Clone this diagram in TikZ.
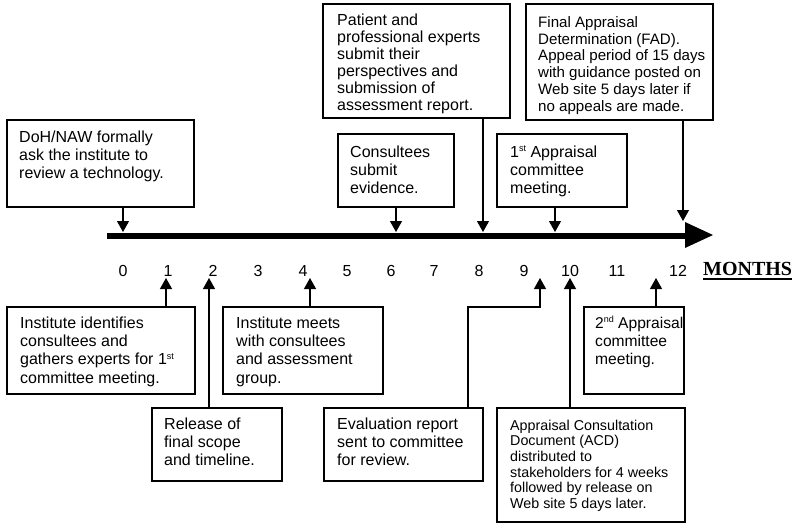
\documentclass[tikz,border=0pt]{standalone}
\usepackage{fontspec}
\setmainfont{Liberation Sans}
\newfontfamily\monthsfont{Liberation Serif}
\usetikzlibrary{arrows.meta}
% small raised ordinal suffix (1st, 2nd)
\newcommand\ordsuf[1]{\raisebox{5.5pt}{\fontsize{9}{9}\selectfont #1}}
% fixed height for the first line of every box text
\newcommand\firstline{\rule{0pt}{14pt}}

\begin{document}
\begin{tikzpicture}[x=1pt,y=-1pt,
  box/.style={draw,line width=1.1pt,inner sep=0pt,outer sep=0pt,anchor=north west},
  txt/.style={font=\fontsize{16}{18.3}\selectfont,align=left,inner sep=0pt,anchor=north west},
  conn/.style={line width=1.2pt,-{Triangle[width=12pt,length=11pt]}},
  num/.style={font=\fontsize{16}{16}\selectfont,anchor=base,inner sep=0pt}]
\useasboundingbox (0,0) rectangle (796,525);

% ---- time axis ----
\fill (107,232.5) rectangle (686,238.5);
\fill (685,222) -- (713,235) -- (685,248) -- cycle;

\foreach \m/\x in {0/123,1/168,2/213,3/258,4/303,5/347,6/391,7/434,8/479,9/524,10/570,11/617,12/678}
  \node[num] (m\m) at (\x,276) {\m};
\node[font=\monthsfont\bfseries\fontsize{20}{20}\selectfont,anchor=base west,inner sep=0pt] (months) at (703,275) {MONTHS};
\draw[line width=1.2pt] ([yshift=-4pt]months.base west) -- ([yshift=-4pt]months.base east);

% ---- arrow end points on the axis ----
\coordinate (a0) at (123,232);
\coordinate (a6) at (396,232);
\coordinate (a8) at (483,232);
\coordinate (a9) at (555,232);
\coordinate (a12) at (683,221);
\coordinate (b1) at (166,278);
\coordinate (b2) at (209,278);
\coordinate (b4) at (310,278);
\coordinate (b9) at (540,278);
\coordinate (b9k) at (540,307);
\coordinate (b9x) at (468,0);
\coordinate (b10) at (570,278);
\coordinate (b11) at (656,278);

% ---- boxes above the axis ----
\node[box,minimum width=187pt,minimum height=87pt] (doh) at (7,120) {};
\node[txt] at ([shift={(12,8)}]doh.north west) {\firstline DoH/NAW formally\\ask the institute to\\review a technology.};

\node[box,minimum width=187pt,minimum height=114pt] (pat) at (323,4) {};
\node[txt,font=\fontsize{16}{17}\selectfont] at ([shift={(14,7)}]pat.north west) {\firstline Patient and\\professional experts\\submit their\\perspectives and\\submission of\\assessment report.};

\node[box,minimum width=116pt,minimum height=73pt] (cons) at (338,134) {};
\node[txt] at ([shift={(12,9)}]cons.north west) {\firstline Consultees\\submit\\evidence.};

\node[box,minimum width=130pt,minimum height=73pt] (app1) at (497,134) {};
\node[txt] at ([shift={(13,9)}]app1.north west) {\firstline 1\ordsuf{st} Appraisal\\committee\\meeting.};

\node[box,minimum width=187pt,minimum height=116pt] (fad) at (526,4) {};
\node[txt,font=\fontsize{15.1}{16.8}\selectfont] at ([shift={(12,9)}]fad.north west) {\firstline Final Appraisal\\Determination (FAD).\\Appeal period of 15 days\\with guidance posted on\\Web site 5 days later if\\no appeals are made.};

% ---- boxes below the axis ----
\node[box,minimum width=188pt,minimum height=87pt] (inst) at (7,307) {};
\node[txt] at ([shift={(13,7)}]inst.north west) {\firstline Institute identifies\\consultees and\\gathers experts for 1\ordsuf{st}\\committee meeting.};

\node[box,minimum width=130pt,minimum height=73pt] (rel) at (152,408) {};
\node[txt] at ([shift={(12,7)}]rel.north west) {\firstline Release of\\final scope\\and timeline.};

\node[box,minimum width=160pt,minimum height=87pt] (meet) at (223,307) {};
\node[txt] at ([shift={(13,7)}]meet.north west) {\firstline Institute meets\\with consultees\\and assessment\\group.};

\node[box,minimum width=159pt,minimum height=73pt] (eval) at (324,408) {};
\node[txt] at ([shift={(13,7)}]eval.north west) {\firstline Evaluation report\\sent to committee\\for review.};

\node[box,minimum width=188pt,minimum height=114pt] (acd) at (497,408) {};
\node[txt,font=\fontsize{14.3}{15.6}\selectfont] at ([shift={(13,8)}]acd.north west) {\firstline Appraisal Consultation\\Document (ACD)\\distributed to\\stakeholders for 4 weeks\\followed by release on\\Web site 5 days later.};

\node[box,minimum width=100pt,minimum height=87pt] (app2) at (584,307) {};
\node[txt,font=\fontsize{15.6}{18.3}\selectfont] at ([shift={(11,7)}]app2.north west) {\firstline 2\ordsuf{nd} Appraisal\\committee\\meeting.};

% ---- connectors ----
\draw[conn] (doh.south -| a0) -- (a0);
\draw[conn] (cons.south -| a6) -- (a6);
\draw[conn] (pat.south -| a8) -- (a8);
\draw[conn] (app1.south -| a9) -- (a9);
\draw[conn] (fad.south -| a12) -- (a12);

\draw[conn] (inst.north -| b1) -- (b1);
\draw[conn] (rel.north -| b2) -- (b2);
\draw[conn] (meet.north -| b4) -- (b4);
\draw[conn] (eval.north -| b9x) |- (b9k) -- (b9);
\draw[conn] (acd.north -| b10) -- (b10);
\draw[conn] (app2.north -| b11) -- (b11);
\end{tikzpicture}
\end{document}
